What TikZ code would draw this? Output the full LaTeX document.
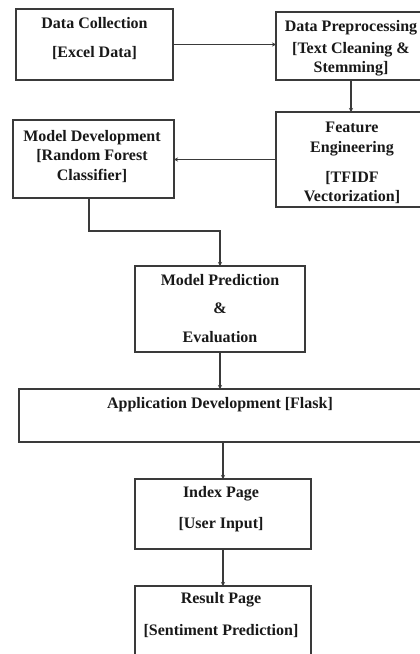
\documentclass[tikz,border=0pt]{standalone}
\usepackage{fontspec}
\setmainfont{Liberation Serif}
\usetikzlibrary{arrows.meta}
\definecolor{linec}{HTML}{3A3A3A}
\tikzset{
  box/.style={draw=linec, line width=1.3pt, rectangle, inner sep=0pt, outer sep=0pt},
  lbl/.style={anchor=base, inner sep=0pt, font=\fontsize{16}{19}\selectfont\bfseries, text=black!90},
  conn/.style={draw=linec, line width=1.4pt, -{Stealth[length=4pt,width=4pt]}},
}
\begin{document}
\begin{tikzpicture}[x=1pt, y=-1pt]
\useasboundingbox (0,0) rectangle (420,654);
\clip (0,0) rectangle (420,654);
\fill[white] (0,0) rectangle (420,654);
% boxes
\node[box, minimum width=157pt, minimum height=71pt] (b1) at (94.5,44.5) {};
\node[box, minimum width=150pt, minimum height=68pt] (b2) at (351,46) {};
\node[box, minimum width=150pt, minimum height=95pt] (b3) at (351,159.5) {};
\node[box, minimum width=161pt, minimum height=78pt] (b4) at (93.5,159) {};
\node[box, minimum width=170pt, minimum height=86pt] (b5) at (220,309) {};
\node[box, minimum width=406pt, minimum height=53pt] (b6) at (222,415.5) {};
\node[box, minimum width=176pt, minimum height=70pt] (b7) at (223,514) {};
\node[box, minimum width=176pt, minimum height=74pt] (b8) at (223,623) {};
% labels
\node[lbl] (t1a) at (94.5,28) {Data Collection};
\node[lbl] (t1b) at (94.5,57) {[Excel Data]};
\node[lbl] (t2a) at (351,31) {Data Preprocessing};
\node[lbl] (t2b) at (351,53) {[Text Cleaning \&};
\node[lbl] (t2c) at (351,72) {Stemming]};
\node[lbl] (t3a) at (352,132) {Feature};
\node[lbl] (t3b) at (352,152) {Engineering};
\node[lbl] (t3c) at (352,182) {[TFIDF};
\node[lbl] (t3d) at (352,201) {Vectorization]};
\node[lbl] (t4a) at (92,141) {Model Development};
\node[lbl] (t4b) at (92,160) {[Random Forest};
\node[lbl] (t4c) at (92,180) {Classifier]};
\node[lbl] (t5a) at (220,285) {Model Prediction};
\node[lbl] (t5b) at (220,313) {\&};
\node[lbl] (t5c) at (220,342) {Evaluation};
\node[lbl] (t6a) at (220,408) {Application Development [Flask]};
\node[lbl] (t7a) at (221,497) {Index Page};
\node[lbl] (t7b) at (221,528) {[User Input]};
\node[lbl] (t8a) at (221,603) {Result Page};
\node[lbl] (t8b) at (221,635) {[Sentiment Prediction]};
% connectors
\coordinate (b4out) at ([xshift=-4.5pt]b4.south);
\draw[conn] (b1.east) -- (b2.west |- b1.east);
\draw[conn] (b2.south) -- (b3.north);
\draw[conn] (b3.west) -- (b4.east |- b3.west);
\draw[conn] (b4out) -- ++(0,33) -| (b5.north);
\draw[conn] (b5.south) -- (b5.south |- b6.north);
\draw[conn] (b7.north |- b6.south) -- (b7.north);
\draw[conn] (b7.south) -- (b8.north);
\end{tikzpicture}
\end{document}
